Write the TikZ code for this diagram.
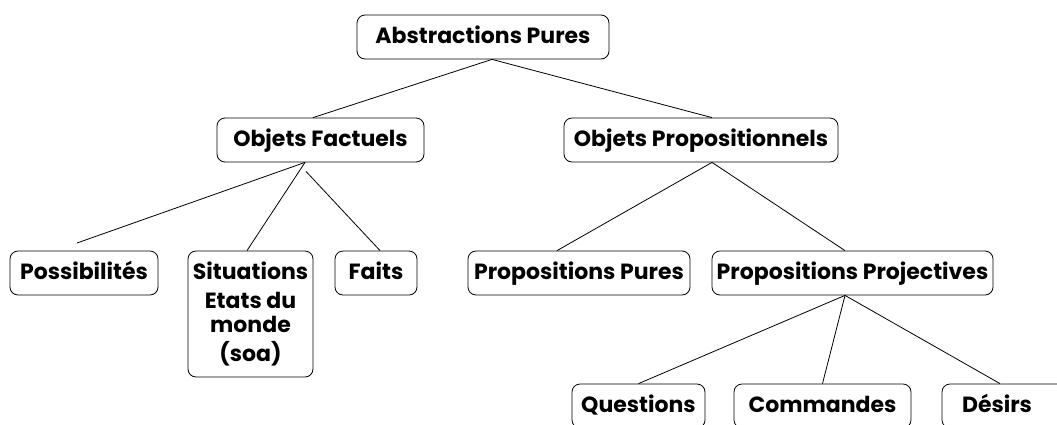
\documentclass[tikz,border=0pt]{standalone}
\usepackage{fontspec}
\setmainfont{Poppins}

\tikzset{
  box/.style={draw, rounded corners=8pt, line width=0.8pt, inner sep=0pt, minimum height=44pt, text height=17pt, text depth=5pt, font=\fontsize{22}{25}\selectfont\bfseries},
  tallbox/.style={draw, rounded corners=8pt, line width=0.8pt, inner sep=0pt, minimum height=126pt, align=center, font=\fontsize{22}{25}\selectfont\bfseries},
  link/.style={line width=0.8pt}
}

\begin{document}
\begin{tikzpicture}[x=1pt,y=-1pt]
\path[use as bounding box, clip] (0,0) rectangle (1057,424);

\node[box, minimum width=252pt] (abstr) at (483,37) {Abstractions Pures};
\node[box, minimum width=207pt] (fact) at (320.5,140) {Objets Factuels};
\node[box, minimum width=274pt] (propo) at (701,140) {Objets Propositionnels};

\node[box, minimum width=148pt] (possib) at (84,273) {Possibilités};
\node[tallbox, minimum width=125pt] (situ) at (250.5,314) {Situations\\[4pt]Etats du\\[-1.5pt]monde\\[4pt](soa)};
\node[box, minimum width=82pt] (faits) at (376,273) {Faits};
\node[box, minimum width=222pt] (ppures) at (579,273) {Propositions Pures};
\node[box, minimum width=281pt] (pproj) at (852.5,273) {Propositions Projectives};

\node[box, minimum width=133pt] (quest) at (638.5,406) {Questions};
\node[box, minimum width=177pt] (comm) at (822.5,406) {Commandes};
\node[box, minimum width=140pt] (desirs) at (1012,406) {Désirs\hspace*{30pt}};

\coordinate (possibtip) at (77,243);

\draw[link] ([xshift=9pt]abstr.south) -- ([xshift=-7.5pt]fact.north);
\draw[link] ([xshift=9pt]abstr.south) -- ([xshift=11pt]propo.north);
\draw[link] ([xshift=-15.5pt]fact.south) -- (possibtip);
\draw[link] ([xshift=-15.5pt]fact.south) -- ([xshift=-3.5pt]situ.north);
\draw[link] ([xshift=-14.5pt,yshift=-9pt]fact.south) -- ([xshift=4pt]faits.north);
\draw[link] ([xshift=11pt]propo.south) -- ([xshift=-22pt]ppures.north);
\draw[link] ([xshift=11pt]propo.south) -- ([xshift=-7.5pt]pproj.north);
\draw[link] ([xshift=-7.5pt]pproj.south) -- (quest.north);
\draw[link] ([xshift=-7.5pt]pproj.south) -- (comm.north);
\draw[link] ([xshift=-7.5pt]pproj.south) -- ([xshift=-12pt]desirs.north);
\end{tikzpicture}
\end{document}
